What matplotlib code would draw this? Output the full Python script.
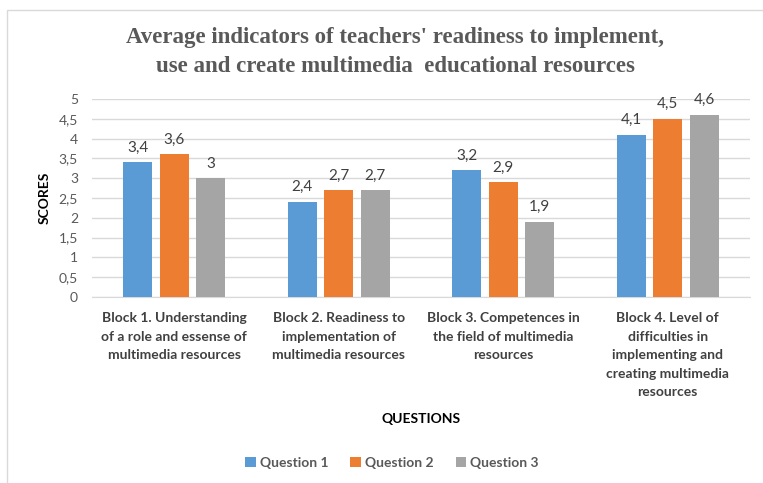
import matplotlib
matplotlib.use("Agg")
import matplotlib.pyplot as plt
import numpy as np
from matplotlib.patches import Rectangle

categories = [
    "Block 1. Understanding\nof a role and essense of\nmultimedia resources",
    "Block 2. Readiness to\nimplementation of\nmultimedia resources",
    "Block 3. Competences in\nthe field of multimedia\nresources",
    "Block 4. Level of\ndifficulties in\nimplementing and\ncreating multimedia\nresources",
]
series_names = ["Question 1", "Question 2", "Question 3"]
q1 = [3.4, 2.4, 3.2, 4.1]
q2 = [3.6, 2.7, 2.9, 4.5]
q3 = [3.0, 2.7, 1.9, 4.6]
yticks = [0, 0.5, 1, 1.5, 2, 2.5, 3, 3.5, 4, 4.5, 5]
colors = ["#5b9bd5", "#ed7d31", "#a5a5a5"]

plt.rcParams['font.family'] = ['Lato', 'DejaVu Sans']

W, H = 763, 483
fig = plt.figure(figsize=(W / 100, H / 100), dpi=100)
ax = fig.add_axes([92 / W, 1 - 297 / H, (750 - 92) / W, (297 - 99) / H])

# outer chart border
fig.patches.append(Rectangle((7 / W, -0.1), 1.2, (H - 10) / H + 0.1,
                             transform=fig.transFigure, fill=False,
                             edgecolor="#d9d9d9", linewidth=1))

x = np.arange(len(categories))
bw = 0.176
step = 0.222
for i, (vals, c, name) in enumerate(zip([q1, q2, q3], colors, series_names)):
    pos = x + (i - 1) * step
    bars = ax.bar(pos, vals, width=bw, color=c, label=name, zorder=3)
    for b, v in zip(bars, vals):
        lab = f"{v:g}".replace(".", ",")
        ax.annotate(lab, (b.get_x() + b.get_width() / 2, v), xytext=(0, 5.5),
                    textcoords="offset points", ha="center", va="bottom",
                    fontsize=11, color="#404040")

ax.set_xlim(-0.5, len(categories) - 0.5)
ax.set_ylim(0, 5)
ax.set_yticks(yticks)
ax.set_yticklabels([f"{t:g}".replace(".", ",") for t in yticks],
                   fontsize=10, color="#595959")
ax.yaxis.grid(True, color="#d9d9d9", linewidth=1, zorder=0)
ax.set_axisbelow(True)
ax.tick_params(axis="y", length=0, pad=10)
ax.tick_params(axis="x", length=0, pad=11)
ax.set_xticks(x)
ax.set_xticklabels(categories, fontsize=10, fontweight="bold", color="#404040",
                   linespacing=1.65)
for s in ["top", "right", "left"]:
    ax.spines[s].set_visible(False)
ax.spines["bottom"].set_color("#d9d9d9")

fig.text(45 / W, 1 - 198 / H, "SCORES", rotation=90, ha="center", va="center",
         fontsize=10, fontweight="bold", color="black")
fig.text(421 / W, 1 - 419 / H, "QUESTIONS", ha="center", va="center",
         fontsize=10, fontweight="bold", color="black")

fig.text(395 / W, 1 - 52 / H,
         "Average indicators of teachers' readiness to implement,\nuse and create multimedia  educational resources",
         ha="center", va="center", fontsize=16.5, fontweight="bold",
         color="#595959", family="Liberation Serif", linespacing=1.45)

leg = fig.legend(loc="center", bbox_to_anchor=(392 / W, 1 - 463 / H), ncol=3,
                 frameon=False, fontsize=10, handlelength=0.75, handleheight=0.75,
                 handletextpad=0.3, columnspacing=1.6)
for t in leg.get_texts():
    t.set_color("#595959")
    t.set_fontweight("bold")

fig.savefig("out.png", dpi=100)
